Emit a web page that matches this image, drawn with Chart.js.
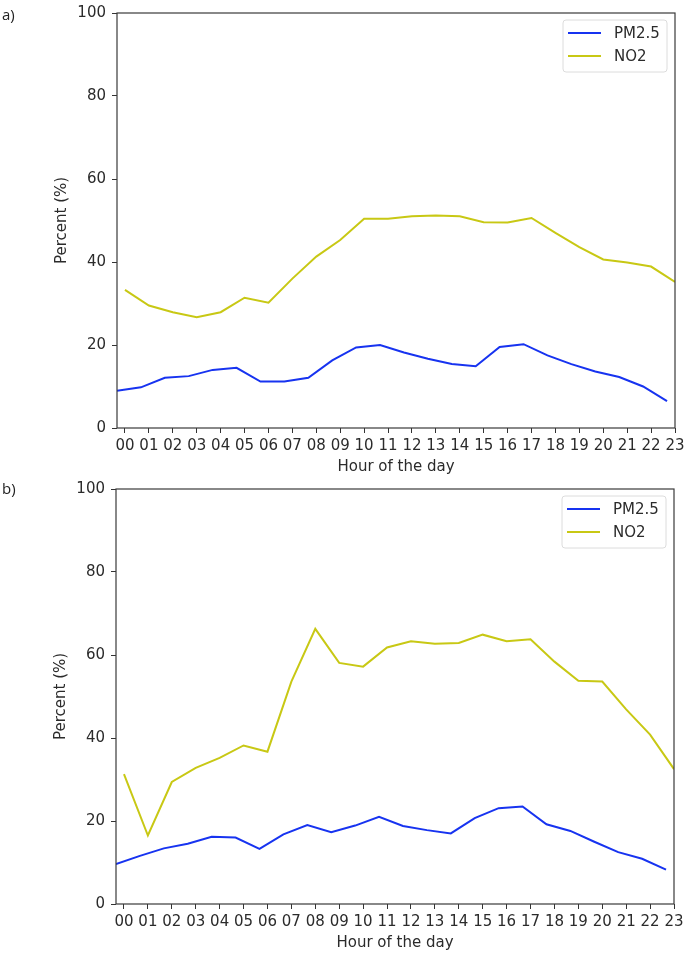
<!DOCTYPE html>
<html><head><meta charset="utf-8">
<script src="https://cdn.jsdelivr.net/npm/chart.js@4"></script>
<style>
html,body{margin:0;padding:0;background:#fff;}
body{width:688px;height:956px;position:relative;overflow:hidden;}
.panel{position:absolute;left:0;width:688px;height:478px;}
.tag{position:absolute;left:2px;font:15px "Open Sans",sans-serif;line-height:15px;color:#222;}
</style></head><body>
<div class="panel" style="top:0"><canvas id="ca" width="688" height="478"></canvas></div>
<div class="panel" style="top:478px"><canvas id="cb" width="688" height="478"></canvas></div>
<div class="tag" style="top:7px">a)</div>
<div class="tag" style="top:481px">b)</div>
<script>
// ---- data ----
const hourLabels = ['00','01','02','03','04','05','06','07','08','09','10','11','12','13','14','15','16','17','18','19','20','21','22','23'];
const hours = [0,1,2,3,4,5,6,7,8,9,10,11,12,13,14,15,16,17,18,19,20,21,22,23];
const pmHourOffset = -1/3;   // PM2.5 series is plotted shifted left by 1/3 hour in the source
const seriesNames = ['PM2.5','NO2'];
const seriesColors = ['#1733f0','#c8c814'];
const yTicks = [0,20,40,60,80,100];
const axisTitles = {x:'Hour of the day', y:'Percent (%)'};

const pm25A = [9.0,9.8,12.1,12.5,14.0,14.5,11.2,11.2,12.1,16.3,19.4,20.0,18.2,16.7,15.4,14.9,19.5,20.2,17.5,15.4,13.6,12.3,10.0,6.5];
const no2A  = [33.3,29.5,27.9,26.7,27.9,31.4,30.2,36.0,41.3,45.3,50.4,50.4,51.0,51.2,51.0,49.6,49.5,50.6,47.0,43.6,40.6,39.9,38.9,35.2];
const pm25B = [9.6,11.6,13.4,14.5,16.2,16.0,13.3,16.8,19.0,17.3,18.9,21.0,18.8,17.8,17.0,20.7,23.1,23.5,19.2,17.6,15.0,12.5,10.9,8.3];
const no2B  = [31.3,16.5,29.4,32.8,35.2,38.2,36.7,53.6,66.3,58.1,57.2,61.8,63.3,62.7,62.9,64.9,63.3,63.8,58.4,53.8,53.6,46.9,40.8,32.5];

const FONT = '"DejaVu Sans", sans-serif';
const TXT = '#2b2b2b';

const deco = {
  id: 'deco',
  afterDraw(chart) {
    const {ctx, chartArea: a} = chart;
    ctx.save();
    // frame
    ctx.strokeStyle = '#3a3a3a'; ctx.lineWidth = 1.2;
    ctx.strokeRect(a.left, a.top, a.right - a.left, a.bottom - a.top);
    // axis titles
    ctx.fillStyle = TXT; ctx.font = '15px ' + FONT;
    ctx.textAlign = 'center'; ctx.textBaseline = 'middle';
    ctx.fillText(axisTitles.x, (a.left + a.right) / 2, a.bottom + 39);
    ctx.save();
    ctx.translate(a.left - 55, (a.top + a.bottom) / 2);
    ctx.rotate(-Math.PI / 2);
    ctx.fillText(axisTitles.y, 0, 0);
    ctx.restore();
    // legend
    const bw = 104, bh = 52;
    const bx = a.right - 8 - bw, by = a.top + 7;
    ctx.beginPath();
    if (ctx.roundRect) ctx.roundRect(bx, by, bw, bh, 3); else ctx.rect(bx, by, bw, bh);
    ctx.fillStyle = 'rgba(255,255,255,0.85)'; ctx.fill();
    ctx.strokeStyle = '#dcdcdc'; ctx.lineWidth = 1; ctx.stroke();
    chart.data.datasets.forEach((ds, i) => {
      const yy = by + 13 + i * 23;
      ctx.beginPath(); ctx.moveTo(bx + 5, yy); ctx.lineTo(bx + 38, yy);
      ctx.strokeStyle = ds.borderColor; ctx.lineWidth = 2; ctx.stroke();
      ctx.fillStyle = TXT; ctx.textAlign = 'left'; ctx.textBaseline = 'middle';
      ctx.font = '15px ' + FONT;
      ctx.fillText(ds.label, bx + 51, yy + 1);
    });
    ctx.restore();
  }
};

function makeChart(id, pm, no2, pad, yW, xH) {
  const pmPts = pm.map((v, i) => ({x: hours[i] + pmHourOffset, y: v}));
  const noPts = no2.map((v, i) => ({x: hours[i], y: v}));
  return new Chart(document.getElementById(id), {
    type: 'line',
    data: {
      datasets: [
        {label: seriesNames[0], data: pmPts, borderColor: seriesColors[0], borderWidth: 2, pointRadius: 0, tension: 0, fill: false},
        {label: seriesNames[1], data: noPts, borderColor: seriesColors[1], borderWidth: 2, pointRadius: 0, tension: 0, fill: false}
      ]
    },
    options: {
      responsive: false, animation: false, devicePixelRatio: 1,
      layout: {padding: {top: pad.top, right: pad.right, left: 0, bottom: 0}},
      plugins: {legend: {display: false}, tooltip: {enabled: false}},
      scales: {
        x: {
          type: 'linear',
          min: hours[0] + pmHourOffset, max: hours[hours.length - 1],
          afterBuildTicks: s => { s.ticks = hours.map(h => ({value: h})); },
          afterFit: s => { s.height = xH; s.paddingLeft = 0; s.paddingRight = 0; },
          border: {display: false},
          grid: {display: true, drawOnChartArea: false, drawTicks: true, tickLength: 5, color: '#333', tickColor: '#333'},
          ticks: {autoSkip: false, maxRotation: 0, padding: 4, color: TXT, font: {family: FONT, size: 15},
                  callback: v => hourLabels[hours.indexOf(v)] ?? ''}
        },
        y: {
          min: yTicks[0], max: yTicks[yTicks.length - 1],
          afterBuildTicks: s => { s.ticks = yTicks.map(v => ({value: v})); },
          afterFit: s => { s.width = yW; s.paddingTop = 0; s.paddingBottom = 0; },
          border: {display: false},
          grid: {display: true, drawOnChartArea: false, drawTicks: true, tickLength: 5, color: '#333', tickColor: '#333'},
          ticks: {padding: 6, color: TXT, font: {family: FONT, size: 15}}
        }
      }
    },
    plugins: [deco]
  });
}

makeChart('ca', pm25A, no2A, {top: 13, right: 13}, 117, 50);
makeChart('cb', pm25B, no2B, {top: 11, right: 14}, 116, 52);
</script>
</body></html>
